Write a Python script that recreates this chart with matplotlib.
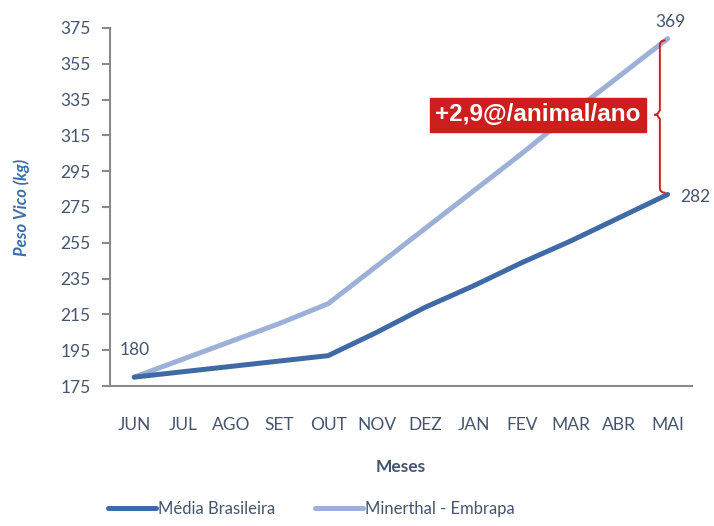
import matplotlib
matplotlib.use("Agg")
import matplotlib.pyplot as plt
import numpy as np

months = ["JUN", "JUL", "AGO", "SET", "OUT", "NOV", "DEZ", "JAN", "FEV", "MAR", "ABR", "MAI"]
media_brasileira = [180, 183, 186, 189, 192, 205, 219, 231, 244, 256, 269, 282]
minerthal = [180, 190, 200, 210, 221, 242, 263, 284, 305, 327, 348, 369]
yticks = [175, 195, 215, 235, 255, 275, 295, 315, 335, 355, 375]

plt.rcParams['font.family'] = ['Lato', 'DejaVu Sans']

dark = "#3f6aa6"
light = "#9db1d8"
txt = "#45556e"
axcol = "#8a8a8a"
red = "#cc1f1d"

fig = plt.figure(figsize=(7.14, 5.26), dpi=100)
ax = fig.add_axes([0.154, 0.266, 0.815, 0.681])
x = np.arange(len(months))
ax.plot(x, media_brasileira, color=dark, lw=3.6, solid_capstyle='round', label="Média Brasileira", zorder=3)
ax.plot(x, minerthal, color=light, lw=3.6, solid_capstyle='round', label="Minerthal - Embrapa", zorder=2)

ax.set_xlim(-0.5, len(months) - 0.5)
ax.set_ylim(175, 375)
ax.set_yticks(yticks)
ax.set_xticks(x)
ax.set_xticklabels(months)
ax.tick_params(axis='y', colors=axcol, labelcolor=txt, labelsize=12.5, length=6, width=1.5, pad=8)
ax.tick_params(axis='x', length=0, labelcolor=txt, labelsize=12.5, pad=22)
for s in ['top', 'right']:
    ax.spines[s].set_visible(False)
for s in ['left', 'bottom']:
    ax.spines[s].set_color(axcol)
    ax.spines[s].set_linewidth(1.5)

ax.set_xlabel("Meses", color=txt, fontsize=12.5, fontweight='bold', labelpad=19)
ax.set_ylabel("Peso Vico (kg)", color="#3a6ea8", fontsize=12, fontstyle='italic', fontweight='bold', labelpad=22)

# value labels
ax.annotate(str(media_brasileira[0]), (x[0], media_brasileira[0]), xytext=(0, 14), textcoords='offset points',
            ha='center', va='bottom', color=txt, fontsize=12.5)
ax.annotate(str(minerthal[-1]), (x[-1], minerthal[-1]), xytext=(2, 6), textcoords='offset points',
            ha='center', va='bottom', color=txt, fontsize=12.5)
ax.annotate(str(media_brasileira[-1]), (x[-1], media_brasileira[-1]), xytext=(9, -2), textcoords='offset points',
            ha='left', va='center', color=txt, fontsize=12.5)

# brace
bx = x[-1] - 0.16
y0, y1 = media_brasileira[-1], minerthal[-1]
ym = (y0 + y1) / 2 + 1
hook = 0.12
tip = 0.1
pts_x = []
pts_y = []
r_y = 2.5
for a in np.linspace(0, np.pi / 2, 8):
    pts_x.append(bx + hook * (1 - np.sin(a)) * 0.8)
    pts_y.append(y0 + 1 + r_y * (1 - np.cos(a)))
pts_x.append(bx)
pts_y.append(ym - r_y)
for a in np.linspace(0, np.pi / 2, 6):
    pts_x.append(bx - tip * np.sin(a) * 0.6)
    pts_y.append(ym - r_y + r_y * np.sin(a))
pts_x.append(bx - tip)
pts_y.append(ym)
for a in np.linspace(np.pi / 2, 0, 6):
    pts_x.append(bx - tip * np.sin(a) * 0.6)
    pts_y.append(ym + r_y - r_y * np.sin(a))
pts_x.append(bx)
pts_y.append(y1 - 1 - r_y)
for a in np.linspace(np.pi / 2, 0, 8):
    pts_x.append(bx + hook * (1 - np.sin(a)) * 0.8)
    pts_y.append(y1 - 1 - r_y * (1 - np.cos(a)))
ax.plot(pts_x, pts_y, color=red, lw=1.4, zorder=4, clip_on=False)

ax.text(bx - tip - 0.3, ym, "+2,9@/animal/ano", ha='right', va='center', color='white',
        fontsize=17.5, fontweight='bold', family=['Liberation Sans', 'DejaVu Sans'], zorder=5,
        bbox=dict(boxstyle='square,pad=0.22', fc=red, ec=red))

fig.legend(loc='lower center', ncol=2, frameon=False, fontsize=12, bbox_to_anchor=(0.436, -0.012),
           handlelength=2.9, columnspacing=2.4, handletextpad=0.1, labelcolor=txt)

fig.savefig("out.png", dpi=100)
